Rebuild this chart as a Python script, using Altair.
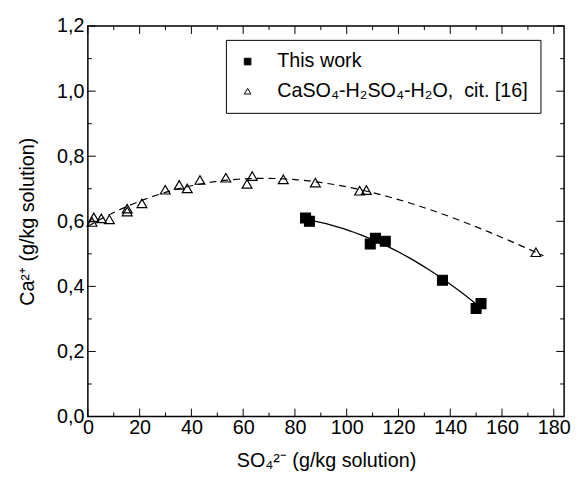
import altair as alt
import pandas as pd

# ---- data ----
S1 = "This work"
S2 = "CaSO\u2084-H\u2082SO\u2084-H\u2082O,\u00a0 cit. [16]"

tri_x = [1.6, 2.3, 5.2, 8.3, 15.2, 15.2, 20.9, 29.9, 35.3, 38.4, 43.3, 53.3,
         61.5, 63.5, 75.5, 87.9, 105.0, 107.6, 173.1]
tri_y = [0.598, 0.612, 0.609, 0.606, 0.630, 0.639, 0.655, 0.697, 0.712, 0.701,
         0.727, 0.734, 0.715, 0.739, 0.729, 0.719, 0.694, 0.696, 0.505]
sq_x = [84.1, 85.6, 109.1, 111.1, 114.9, 137.0, 150.0, 151.9]
sq_y = [0.610, 0.600, 0.530, 0.548, 0.539, 0.419, 0.332, 0.347]

x_major = [0, 20, 40, 60, 80, 100, 120, 140, 160, 180]
x_minor = [10, 30, 50, 70, 90, 110, 130, 150, 170]
y_major = [0.0, 0.2, 0.4, 0.6, 0.8, 1.0, 1.2]
y_minor = [0.1, 0.3, 0.5, 0.7, 0.9, 1.1]

# ---- layout ----
W, H = 483, 396
F = "Liberation Sans"
FS = 20

xs = alt.Scale(domain=[0, 184], nice=False, zero=False)
ys = alt.Scale(domain=[0, 1.2], nice=False, zero=False)

XT = "SO\u2084\u00b2\u207b (g/kg solution)"
YT = "Ca\u00b2\u207a (g/kg solution)"

xaxis = alt.Axis(values=x_major, ticks=False, tickSize=0, domain=False, grid=False,
                 labelPadding=1, labelFontSize=FS, labelFont=F, labelColor="black",
                 labelFlush=False, labelOverlap=False,
                 title=XT, titleFontSize=FS,
                 titleFont=F, titleFontWeight="normal", titleColor="black",
                 titlePadding=14)
yaxis = alt.Axis(values=y_major, ticks=False, tickSize=0, domain=False, grid=False,
                 labelExpr="replace(format(datum.value, '.1f'), '.', ',')",
                 labelPadding=4, labelFontSize=FS, labelFont=F, labelColor="black",
                 labelFlush=False, labelOverlap=False,
                 title=YT, titleFontSize=FS,
                 titleFont=F, titleFontWeight="normal", titleColor="black",
                 titlePadding=19)

leg = alt.Legend(title=None, orient="none", legendX=140, legendY=14,
                 direction="vertical", strokeColor="black", fillColor="white",
                 padding=12, labelFontSize=FS, labelFont=F, labelColor="black",
                 symbolSize=45, symbolStrokeWidth=1,
                 labelOffset=20, rowPadding=10, labelLimit=500)

pts = pd.DataFrame({
    "x": sq_x + tri_x,
    "y": sq_y + tri_y,
    "series": [S1] * len(sq_x) + [S2] * len(tri_x),
})
tri_df = pd.DataFrame({"x": tri_x, "y": tri_y})
sq_df = pd.DataFrame({"x": sq_x, "y": sq_y})

points = alt.Chart(pts).mark_point(size=100, strokeWidth=1.2, opacity=1).encode(
    x=alt.X("x:Q", scale=xs, axis=xaxis),
    y=alt.Y("y:Q", scale=ys, axis=yaxis),
    shape=alt.Shape("series:N", scale=alt.Scale(domain=[S1, S2],
                                                range=["square", "triangle-up"]),
                    legend=leg),
    fill=alt.Fill("series:N", scale=alt.Scale(domain=[S1, S2],
                                              range=["black", "transparent"]),
                  legend=leg),
    stroke=alt.Stroke("series:N", scale=alt.Scale(domain=[S1, S2],
                                                  range=["black", "black"]),
                      legend=leg),
)

dashed = alt.Chart(tri_df).transform_regression(
    "x", "y", method="poly", order=3, extent=[0, 176]
).mark_line(color="black", strokeWidth=1.2, strokeDash=[7, 5]).encode(
    x=alt.X("x:Q", scale=xs, axis=xaxis),
    y=alt.Y("y:Q", scale=ys, axis=yaxis),
)

solid = alt.Chart(sq_df).transform_regression(
    "x", "y", method="poly", order=2, extent=[84, 151]
).mark_line(color="black", strokeWidth=1.3).encode(
    x=alt.X("x:Q", scale=xs, axis=xaxis),
    y=alt.Y("y:Q", scale=ys, axis=yaxis),
)


def xticks(vals, length, top):
    df = pd.DataFrame({"x": vals})
    y1 = 0 if top else H
    y2 = length if top else H - length
    return alt.Chart(df).mark_rule(color="black", strokeWidth=1).encode(
        x=alt.X("x:Q", scale=xs, axis=xaxis), y=alt.value(y1), y2=alt.value(y2))


def yticks(vals, length, right):
    df = pd.DataFrame({"y": vals})
    x1 = W if right else 0
    x2 = W - length if right else length
    return alt.Chart(df).mark_rule(color="black", strokeWidth=1).encode(
        y=alt.Y("y:Q", scale=ys, axis=yaxis), x=alt.value(x1), x2=alt.value(x2))


ticks = [xticks(x_major, 8, False), xticks(x_minor, 4, False),
         xticks(x_major, 8, True), xticks(x_minor, 4, True),
         yticks(y_major, 8, False), yticks(y_minor, 4, False),
         yticks(y_major, 8, True), yticks(y_minor, 4, True)]

chart = alt.layer(points, dashed, solid, *ticks).properties(
    width=W, height=H,
    autosize=alt.AutoSizeParams(type="none"),
    padding={"left": 81, "top": 15, "right": 8, "bottom": 58},
).configure(font=F).configure_view(stroke="black", strokeWidth=1.5)

chart.save("out.html", embed_options={"renderer": "svg", "actions": False})
